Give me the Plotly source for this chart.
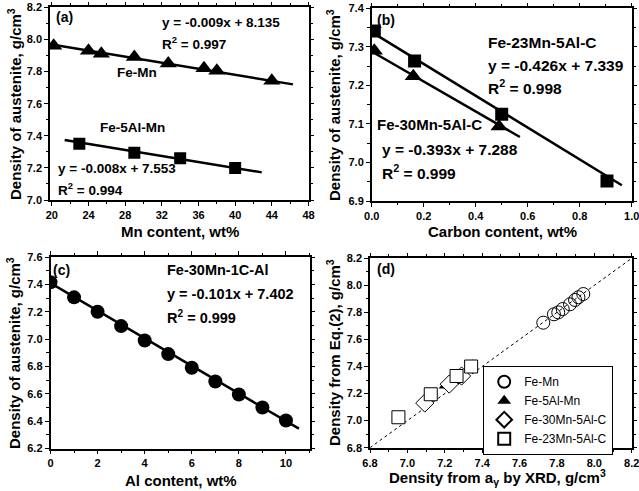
import plotly.graph_objects as go

W, H = 639, 491

# ---------------- data ----------------
# (a) density vs Mn content
a_femn_x = [20.2, 24.0, 25.4, 29.0, 32.7, 36.6, 38.0, 44.0]
a_femn_y = [7.96, 7.93, 7.91, 7.89, 7.85, 7.82, 7.805, 7.743]
a_feal_x = [23.0, 29.0, 34.0, 40.0]
a_feal_y = [7.35, 7.295, 7.26, 7.20]
a_femn_fit_x = [19.8, 46.3]
a_femn_fit_y = [7.97, 7.72]
a_feal_fit_x = [21.4, 42.9]
a_feal_fit_y = [7.374, 7.172]

# (b) density vs carbon content
b_23_x = [0.01, 0.165, 0.50, 0.905]
b_23_y = [7.341, 7.263, 7.125, 6.952]
b_30_x = [0.01, 0.16, 0.49]
b_30_y = [7.29, 7.224, 7.093]
b_23_fit_x = [0.0, 0.962]
b_23_fit_y = [7.338, 6.941]
b_30_fit_x = [0.0, 0.57]
b_30_fit_y = [7.288, 7.066]

# (c) density vs Al content
c_x = [0, 1, 2, 3, 4, 5, 6, 7, 8, 9, 10]
c_y = [7.415, 7.305, 7.20, 7.095, 6.99, 6.89, 6.79, 6.69, 6.595, 6.50, 6.405]
c_fit_x = [0.0, 10.55]
c_fit_y = [7.41, 6.345]

# (d) Eq.(2) vs XRD
d_diag = [6.8, 8.2]
d_femn_x = [7.727, 7.784, 7.807, 7.831, 7.870, 7.897, 7.915, 7.941]
d_femn_y = [7.724, 7.786, 7.800, 7.825, 7.860, 7.892, 7.912, 7.936]
d_feal_x = [7.195, 7.26, 7.295, 7.35]
d_feal_y = [7.255, 7.29, 7.33, 7.42]
d_fe30_x = [7.093, 7.224, 7.29]
d_fe30_y = [7.13, 7.27, 7.33]
d_fe23_x = [6.952, 7.125, 7.263, 7.341]
d_fe23_y = [7.025, 7.195, 7.33, 7.40]

# tick labels
a_xticks = [20, 24, 28, 32, 36, 40, 44, 48]
a_yticks = ["7.0", "7.2", "7.4", "7.6", "7.8", "8.0", "8.2"]
b_xticks = ["0.0", "0.2", "0.4", "0.6", "0.8", "1.0"]
b_yticks = ["6.9", "7.0", "7.1", "7.2", "7.3", "7.4"]
c_xticks = [0, 2, 4, 6, 8, 10]
c_yticks = ["6.2", "6.4", "6.6", "6.8", "7.0", "7.2", "7.4", "7.6"]
d_ticks = ["6.8", "7.0", "7.2", "7.4", "7.6", "7.8", "8.0", "8.2"]

FONT = "Liberation Sans, Arial, sans-serif"

fig = go.Figure()

def pts(x, y, xa, ya, symbol, size, fill="black", lw=0, name=None, legend=False):
    fig.add_trace(go.Scatter(
        x=x, y=y, xaxis=xa, yaxis=ya, mode="markers", name=name,
        showlegend=legend,
        marker=dict(symbol=symbol, size=size, color=fill,
                    line=dict(color="black", width=lw))))

def line(x, y, xa, ya, width=2.5, dash="solid"):
    fig.add_trace(go.Scatter(
        x=x, y=y, xaxis=xa, yaxis=ya, mode="lines", showlegend=False,
        line=dict(color="black", width=width, dash=dash), hoverinfo="skip"))

# (a)
line(a_femn_fit_x, a_femn_fit_y, "x", "y")
line(a_feal_fit_x, a_feal_fit_y, "x", "y")
pts(a_femn_x, a_femn_y, "x", "y", "triangle-up", 15)
pts(a_feal_x, a_feal_y, "x", "y", "square", 12)

# (b)
line(b_23_fit_x, b_23_fit_y, "x2", "y2")
line(b_30_fit_x, b_30_fit_y, "x2", "y2")
pts(b_23_x, b_23_y, "x2", "y2", "square", 13)
pts(b_30_x, b_30_y, "x2", "y2", "triangle-up", 15)

# (c)
line(c_fit_x, c_fit_y, "x3", "y3")
pts(c_x, c_y, "x3", "y3", "circle", 14)

# (d)
line(d_diag, d_diag, "x4", "y4", width=1, dash="dot")
pts(d_femn_x, d_femn_y, "x4", "y4", "circle-open", 13, fill="black", lw=1, name="Fe-Mn", legend=True)
pts(d_feal_x, d_feal_y, "x4", "y4", "triangle-up", 9, fill="black", lw=0, name="Fe-5Al-Mn", legend=True)
pts(d_fe30_x, d_fe30_y, "x4", "y4", "diamond", 14, fill="white", lw=1, name="Fe-30Mn-5Al-C", legend=True)
pts(d_fe23_x, d_fe23_y, "x4", "y4", "square", 13, fill="white", lw=1, name="Fe-23Mn-5Al-C", legend=True)

def px2x(p):
    return p / W

def px2y(p):
    return 1 - p / H

def axis(domain, rng, labels, mdtick, anchor):
    vals = [float(v) for v in labels]
    return dict(domain=domain, range=rng, tickmode="array", tickvals=vals,
                ticktext=[str(v) for v in labels], automargin=False,
                ticklabeloverflow="allow",
                showline=True, linecolor="black", linewidth=1.5, mirror="allticks",
                ticks="outside", ticklen=4, tickwidth=1.2, tickcolor="black",
                minor=dict(dtick=mdtick, tick0=0, ticks="outside", ticklen=2.5,
                           tickwidth=1, tickcolor="black", showgrid=False),
                showgrid=False, zeroline=False, anchor=anchor,
                tickfont=dict(family=FONT, size=11, color="black", weight="bold"))

xa_dom = [px2x(50), px2x(308.5)]
xb_dom = [px2x(371.7), px2x(631.7)]
xc_dom = [px2x(50.5), px2x(309.5)]
xd_dom = [px2x(370), px2x(631.7)]
ya_dom = [px2y(200), px2y(7.3)]
yb_dom = [px2y(201), px2y(8.3)]
yc_dom = [px2y(448.5), px2y(257)]
yd_dom = [px2y(447.7), px2y(258.3)]

fig.update_layout(
    width=W, height=H, margin=dict(l=0, r=0, t=0, b=0, autoexpand=False),
    paper_bgcolor="white", plot_bgcolor="white",
    font=dict(family=FONT, color="black"),
    xaxis=axis(xa_dom, [19.8, 48], a_xticks, 2, "y"),
    yaxis=axis(ya_dom, [7.0, 8.2], a_yticks, 0.1, "x"),
    xaxis2=axis(xb_dom, [0, 1.0], b_xticks, 0.1, "y2"),
    yaxis2=axis(yb_dom, [6.9, 7.4], b_yticks, 0.05, "x2"),
    xaxis3=axis(xc_dom, [0, 11], c_xticks, 1, "y3"),
    yaxis3=axis(yc_dom, [6.2, 7.6], c_yticks, 0.1, "x3"),
    xaxis4=axis(xd_dom, [6.8, 8.2], d_ticks, 0.1, "y4"),
    yaxis4=axis(yd_dom, [6.8, 8.2], d_ticks, 0.1, "x4"),
    showlegend=True,
    legend=dict(x=px2x(483), y=px2y(366), xanchor="left", yanchor="top",
                bgcolor="white", bordercolor="black", borderwidth=1.2,
                font=dict(family=FONT, size=12, color="black"),
                itemsizing="constant", tracegroupgap=0),
)

def txt(s, x, y, size=14, xanchor="left", angle=0):
    fig.add_annotation(text=s, x=px2x(x), y=px2y(y),
                       xref="paper", yref="paper", showarrow=False,
                       xanchor=xanchor, yanchor="middle", textangle=angle,
                       font=dict(family=FONT, size=size, color="black", weight="bold"))

# panel labels and fit texts
txt("(a)", 54, 17, 14)
txt("y = -0.009x + 8.135", 160, 23, 13.5)
txt("R<sup>2</sup> = 0.997", 160, 43, 13.5)
txt("Fe-Mn", 115, 72, 13.5)
txt("Fe-5Al-Mn", 98, 128, 13.5)
txt("y = -0.008x + 7.553", 56, 168, 13.5)
txt("R<sup>2</sup> = 0.994", 56, 189, 13.5)

txt("(b)", 375, 20, 14)
txt("Fe-23Mn-5Al-C", 486, 43, 15.5)
txt("y = -0.426x + 7.339", 486, 65, 15.5)
txt("R<sup>2</sup> = 0.998", 486, 87, 15.5)
txt("Fe-30Mn-5Al-C", 375, 124, 15)
txt("y = -0.393x + 7.288", 380, 150, 15.5)
txt("R<sup>2</sup> = 0.999", 380, 172, 15.5)

txt("(c)", 51, 270, 14)
txt("Fe-30Mn-1C-Al", 165, 270, 14.5)
txt("y = -0.101x + 7.402", 165, 294, 14.5)
txt("R<sup>2</sup> = 0.999", 165, 317, 14.5)

txt("(d)", 375, 269, 14)

# axis titles
TS = 15
txt("Mn content, wt%", 180, 231, TS, xanchor="center")
txt("Carbon content, wt%", 502, 231, TS, xanchor="center")
txt("Al content, wt%", 181, 480, TS, xanchor="center")
txt("Density from a<sub>γ</sub> by XRD, g/cm<sup>3</sup>", 497, 477, TS, xanchor="center")
txt("Density of austenite, g/cm<sup>3</sup>", 14, 104, TS, xanchor="center", angle=-90)
txt("Density of austenite, g/cm<sup>3</sup>", 334, 105, TS, xanchor="center", angle=-90)
txt("Density of austenite, g/cm<sup>3</sup>", 13, 353, TS, xanchor="center", angle=-90)
txt("Density from Eq.(2), g/cm<sup>3</sup>", 333, 353, TS, xanchor="center", angle=-90)

fig.write_html("out.html", config={"displayModeBar": False},
               post_script="document.body.style.margin='0px';document.body.style.overflow='hidden';")
